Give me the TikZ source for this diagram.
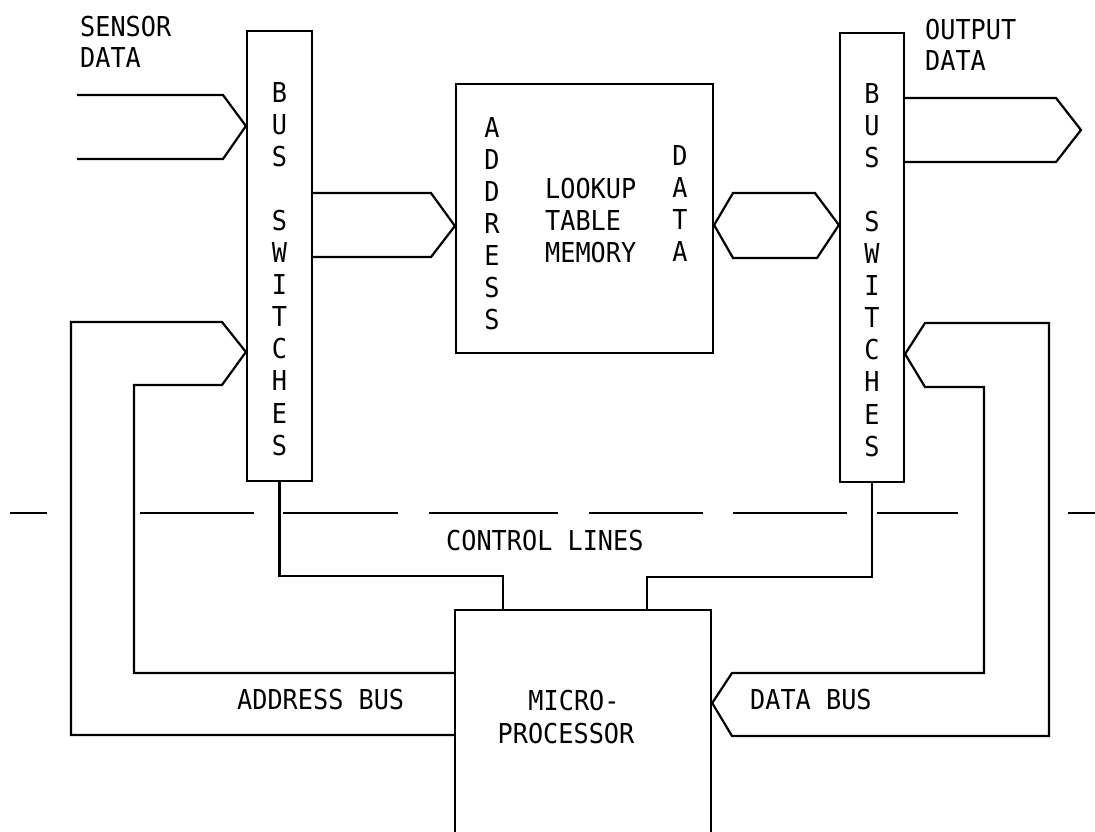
\documentclass[tikz,border=0pt]{standalone}
\usepackage{fontspec}
\newfontfamily\plotfont[FakeStretch=0.92]{DejaVu Sans Mono}
\begin{document}
\begin{tikzpicture}[x=1pt,y=-1pt,
  wire/.style={line width=2.2pt, line join=miter},
  box/.style={draw, line width=2.2pt, rectangle, inner sep=0pt},
  lbl/.style={font=\plotfont\fontsize{27.4}{32}\selectfont, inner sep=0pt}]
\useasboundingbox (0,0) rectangle (1095,831);
\clip (0,0) rectangle (1095,831);

% boxes
\node[box, minimum width=65pt, minimum height=450pt] (bs1) at (279.5,256) {};
\node[box, minimum width=64pt, minimum height=449pt] (bs2) at (872,257.5) {};
\node[box, minimum width=257pt, minimum height=269pt] (lut) at (584.5,218.5) {};
\node[box, minimum width=256pt, minimum height=300pt, anchor=north west] (mp) at (454,609) {};

% free ends
\coordinate (sin1) at (77,95);
\coordinate (sin2) at (77,159);

% sensor input
\draw[wire] (sin1) -- (223,95) -- (bs1.west |- 0,126) -- (223,159) -- (sin2);
% address into LUT
\draw[wire] (bs1.east |- 0,193) -- (431,193) -- (lut.west |- 0,226) -- (431,257) -- (bs1.east |- 0,257);
% data between LUT and bus switches
\draw[wire] (lut.east |- 0,225) -- (733,193) -- (815,193) -- (bs2.west |- 0,225) -- (817,258) -- (733,258) -- cycle;
% output data
\draw[wire] (bs2.east |- 0,98) -- (1056,98) -- (1081,130) -- (1056,162) -- (bs2.east |- 0,162);
% address bus
\draw[wire] (mp.west |- 0,735) -- (71,735) -- (71,322) -- (222,322) -- (bs1.west |- 0,352)
  -- (222,385) -- (134,385) -- (134,673) -- (mp.west |- 0,673);
% data bus
\draw[wire] (bs2.east |- 0,354) -- (925,323) -- (1049,323) -- (1049,736) -- (732,736)
  -- (mp.east |- 0,703) -- (732,673) -- (984,673) -- (984,387) -- (925,387) -- cycle;
% control lines
\draw[wire] (bs1.south) -- (279.5,576) -- (503,576) -- (mp.north -| 503,0);
\draw[wire] (bs2.south) -- (872,577) -- (647,577) -- (mp.north -| 647,0);

% dashed separator
\foreach \a/\b in {10/47,140/254,283/398,429/558,589/703,733/847,877/958,1068/1095}
  \draw[wire] (\a,513) -- (\b,513);

% labels
\node[lbl, anchor=base west] (sd1) at (80,36) {SENSOR};
\node[lbl, anchor=base west] (sd2) at (80,67) {DATA};
\node[lbl, anchor=base west] (od1) at (925,39) {OUTPUT};
\node[lbl, anchor=base west] (od2) at (925,70) {DATA};
\node[lbl, anchor=base west] (lk1) at (545,198) {LOOKUP};
\node[lbl, anchor=base west] (lk2) at (545,230) {TABLE};
\node[lbl, anchor=base west] (lk3) at (545,262) {MEMORY};
\node[lbl, anchor=base west] (ctl) at (446,550) {CONTROL LINES};
\node[lbl, anchor=base west] (abl) at (237,709) {ADDRESS BUS};
\node[lbl, anchor=base west] (dbl) at (750,709) {DATA BUS};
\node[lbl, anchor=base] (mp1) at (574,710) {MICRO-};
\node[lbl, anchor=base] (mp2) at (566,743) {PROCESSOR};

% vertical letter columns
\foreach \c/\i in {B/0,U/1,S/2,S/4,W/5,I/6,T/7,C/8,H/9,E/10,S/11} {
  \node[lbl, anchor=base] (l\i) at (279.5,102+\i*32.1) {\c};
  \node[lbl, anchor=base] (r\i) at (872,103+\i*32.1) {\c};
}
\foreach \c/\i in {A/0,D/1,D/2,R/3,E/4,S/5,S/6}
  \node[lbl, anchor=base] (ad\i) at (492,137+\i*32) {\c};
\foreach \c/\i in {D/0,A/1,T/2,A/3}
  \node[lbl, anchor=base] (da\i) at (680,165+\i*32.3) {\c};
\end{tikzpicture}
\end{document}
